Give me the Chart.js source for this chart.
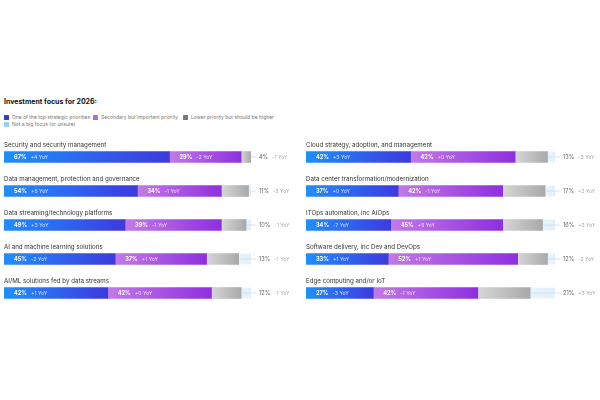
<!DOCTYPE html>
<html>
<head>
<meta charset="utf-8">
<script src="https://cdn.jsdelivr.net/npm/chart.js@4.4.0/dist/chart.umd.min.js"></script>
<style>
  html, body { margin: 0; padding: 0; background: #fff; }
  body { width: 600px; height: 400px; position: relative; overflow: hidden; font-family: Inter, "Open Sans", sans-serif; }
  #title { position: absolute; left: 4px; top: 97px; font-size: 7px; font-weight: 700; color: #111; }
  .legend { position: absolute; font-size: 5px; color: #777; display: flex; align-items: center; white-space: nowrap; }
  .legend span.sw { width: 5px; height: 5px; display: inline-block; margin-right: 3px; border-radius: 0.5px; }
  .box { position: absolute; top: 130px; width: 300px; height: 190px; }
</style>
</head>
<body>
<div id="title">Investment focus for 2026:</div>
<div id="legend"></div>
<div class="box" style="left:0px"><canvas id="left"></canvas></div>
<div class="box" style="left:300px"><canvas id="right"></canvas></div>
<script>
// ---- Data ----
const seriesNames = ['One of the top strategic priorities', 'Secondary but important priority', 'Lower priority but should be higher', 'Not a big focus (or unsure)'];

const leftCategories = ['Security and security management', 'Data management, protection and governance', 'Data streaming/technology platforms', 'AI and machine learning solutions', 'AI/ML solutions fed by data streams'];
const leftTop = [67, 54, 49, 45, 42];
const leftTopYoY = ['+4', '+5', '+3', '-2', '+1'];
const leftSecondary = [29, 34, 39, 37, 42];
const leftSecondaryYoY = ['-2', '-1', '-1', '+1', '+0'];
const leftLower = [4, 11, 10, 13, 12];
const leftLowerYoY = ['-1', '-3', '-1', '-1', '-1'];
const leftNotFocus = [0, 1, 2, 5, 4];

const rightCategories = ['Cloud strategy, adoption, and management', 'Data center transformation/modernization', 'ITOps automation, inc AIOps', 'Software delivery, inc Dev and DevOps', 'Edge computing and/or IoT'];
const rightTop = [42, 37, 34, 33, 27];
const rightTopYoY = ['+3', '+0', '-7', '+1', '-3'];
const rightSecondary = [42, 42, 45, 52, 42];
const rightSecondaryYoY = ['+0', '-1', '+5', '+1', '-1'];
const rightLower = [13, 17, 16, 12, 21];
const rightLowerYoY = ['-3', '+2', '+2', '-2', '+3'];
const rightNotFocus = [3, 4, 5, 3, 10];

// ---- Styles ----
const legendColors = ['#3a3ad8', '#b26ae3', '#7a7a7a', '#92d2f2'];
const gradStops = [
  ['#1f8fff', '#3d3ade'],
  ['#c27ae6', '#8f2fe0'],
  ['#d6d6d6', '#a9a9a9'],
  ['#e8f4fc', '#e3f1fb']
];
const FONT = 'Inter, "Open Sans", sans-serif';

// Legend (HTML)
const legendPos = [[4, 114], [93, 114], [183, 114], [4, 121]];
const legendEl = document.getElementById('legend');
seriesNames.forEach((n, i) => {
  const d = document.createElement('div');
  d.className = 'legend';
  d.style.left = legendPos[i][0] + 'px';
  d.style.top = legendPos[i][1] + 'px';
  d.innerHTML = '<span class="sw" style="background:' + legendColors[i] + '"></span>' + n;
  legendEl.appendChild(d);
});

function gradientFor(k) {
  return (ctx) => {
    const chart = ctx.chart;
    const xs = chart.scales.x;
    if (!chart.chartArea || !xs || ctx.dataIndex == null) return gradStops[k][1];
    let start = 0;
    for (let d = 0; d < k; d++) start += chart.data.datasets[d].data[ctx.dataIndex];
    const end = start + chart.data.datasets[k].data[ctx.dataIndex];
    const x0 = xs.getPixelForValue(start), x1 = xs.getPixelForValue(end);
    if (!isFinite(x0) || !isFinite(x1) || x1 - x0 < 0.5) return gradStops[k][1];
    const g = chart.ctx.createLinearGradient(x0, 0, x1, 0);
    g.addColorStop(0, gradStops[k][0]);
    g.addColorStop(1, gradStops[k][1]);
    return g;
  };
}

const panelLabels = {
  id: 'panelLabels',
  afterDatasetsDraw(chart) {
    const o = chart.options.plugins.panelLabels;
    const ctx = chart.ctx;
    const area = chart.chartArea;
    ctx.save();
    ctx.textBaseline = 'middle';
    chart.getDatasetMeta(0).data.forEach((bar, i) => {
      const y = bar.y;
      // category title
      ctx.font = '6.2px ' + FONT;
      ctx.fillStyle = '#333';
      ctx.textAlign = 'left';
      ctx.fillText(chart.data.labels[i], area.left, y - 12);
      // segment labels
      [0, 1].forEach(d => {
        const el = chart.getDatasetMeta(d).data[i];
        const sx = Math.min(el.x, el.base) + 10;
        const pct = chart.data.datasets[d].data[i] + '%';
        ctx.font = '700 5.6px ' + FONT;
        ctx.fillStyle = '#fff';
        ctx.fillText(pct, sx, y + 0.3);
        const w = ctx.measureText(pct).width;
        ctx.font = '5.2px ' + FONT;
        ctx.fillStyle = 'rgba(255,255,255,0.8)';
        ctx.fillText(o.yoy[d][i] + ' YoY', sx + w + 4, y + 0.3);
      });
      // connector + lower priority label
      const lel = chart.getDatasetMeta(2).data[i];
      const endX = Math.max(lel.x, lel.base);
      ctx.strokeStyle = '#c9dceb';
      ctx.lineWidth = 0.8;
      ctx.beginPath();
      ctx.moveTo(endX, y);
      ctx.lineTo(area.right + 5, y);
      ctx.stroke();
      const pct = chart.data.datasets[2].data[i] + '%';
      ctx.font = '5.6px ' + FONT;
      ctx.fillStyle = '#666';
      ctx.fillText(pct, area.right + 8, y + 0.3);
      const w = ctx.measureText(pct).width;
      ctx.font = '5.2px ' + FONT;
      ctx.fillStyle = '#aaa';
      ctx.fillText(o.yoy[2][i] + ' YoY', area.right + 8 + w + 4, y + 0.3);
    });
    ctx.restore();
  }
};

function makeChart(id, cats, top, sec, low, nf, yoy, pad) {
  return new Chart(document.getElementById(id), {
    type: 'bar',
    data: {
      labels: cats,
      datasets: [
        { label: seriesNames[0], data: top, backgroundColor: gradientFor(0) },
        { label: seriesNames[1], data: sec, backgroundColor: gradientFor(1) },
        { label: seriesNames[2], data: low, backgroundColor: gradientFor(2) },
        { label: seriesNames[3], data: nf, backgroundColor: gradientFor(3), borderColor: '#d3e9f8', borderWidth: { left: 0.6, right: 0.6, top: 0, bottom: 0 } }
      ]
    },
    options: {
      indexAxis: 'y',
      responsive: true,
      maintainAspectRatio: false,
      animation: false,
      devicePixelRatio: 1,
      layout: { padding: pad },
      datasets: { bar: { barThickness: 11, borderSkipped: false } },
      scales: {
        x: { stacked: true, min: 0, max: 100, display: false },
        y: { stacked: true, display: false }
      },
      plugins: {
        legend: { display: false },
        tooltip: { enabled: false },
        panelLabels: { yoy: yoy }
      }
    },
    plugins: [panelLabels]
  });
}

makeChart('left', leftCategories, leftTop, leftSecondary, leftLower, leftNotFocus,
  [leftTopYoY, leftSecondaryYoY, leftLowerYoY], { left: 4, right: 49, top: 10, bottom: 10 });
makeChart('right', rightCategories, rightTop, rightSecondary, rightLower, rightNotFocus,
  [rightTopYoY, rightSecondaryYoY, rightLowerYoY], { left: 6, right: 45, top: 10, bottom: 10 });
</script>
</body>
</html>
